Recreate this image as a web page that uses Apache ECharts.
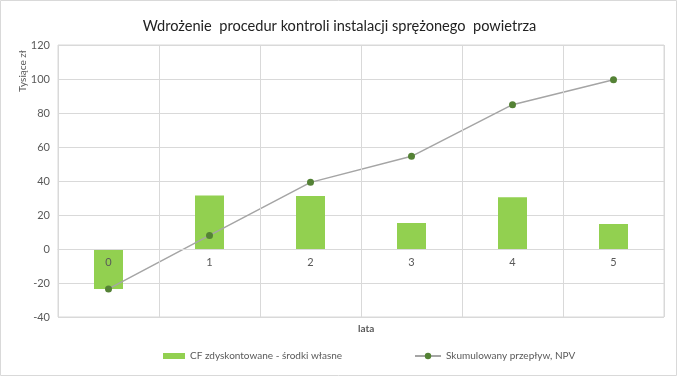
<!DOCTYPE html>
<html>
<head>
<meta charset="utf-8">
<script src="https://cdn.jsdelivr.net/npm/echarts@6/dist/echarts.min.js"></script>
<style>
  html, body { margin: 0; padding: 0; background: #fff; }
  #chart { width: 679px; height: 378px; }
</style>
</head>
<body>
<div id="chart"></div>
<script>
const years = ["0", "1", "2", "3", "4", "5"];
const cfValues = [-23.5, 31.5, 31.2, 15.3, 30.4, 14.7];
const npvValues = [-23.5, 8, 39.2, 54.5, 84.9, 99.6];

const labelColor = "#595959";
const gridColor = "#d9d9d9";
const font = "Lato";

const myChart = echarts.init(document.getElementById("chart"));

const legendText = { color: labelColor, fontSize: 10, fontFamily: font };

const option = {
  animation: false,
  textStyle: { fontFamily: font },
  title: [
    {
      text: "Wdrożenie  procedur kontroli instalacji sprężonego  powietrza",
      left: "center",
      top: 14,
      textStyle: { fontFamily: font, fontSize: 14.6, fontWeight: "normal", color: "#222" },
    },
    {
      text: "lata",
      left: 353,
      top: 319,
      textStyle: { fontFamily: font, fontSize: 10, fontWeight: "bold", color: labelColor },
    },
  ],
  graphic: [
    {
      type: "rect",
      shape: { x: 0.5, y: 0.5, width: 676, height: 375 },
      style: { fill: "none", stroke: gridColor, lineWidth: 1 },
      silent: true,
    },
    {
      type: "text",
      x: 18,
      y: 92,
      rotation: Math.PI / 2,
      style: { text: "Tysiące zł", fill: labelColor, fontSize: 10, fontFamily: font },
    },
  ],
  legend: [
    {
      left: 163,
      top: 351,
      padding: 0,
      itemGap: 0,
      itemWidth: 22,
      itemHeight: 6,
      textStyle: legendText,
      data: [{ name: "CF zdyskontowane - środki własne", icon: "rect" }],
    },
    {
      left: 414,
      top: 351,
      padding: 0,
      itemGap: 0,
      itemWidth: 26,
      itemHeight: 8,
      textStyle: legendText,
      data: [{ name: "Skumulowany przepływ, NPV" }],
    },
  ],
  grid: {
    show: true,
    left: 58,
    right: 15,
    top: 45,
    bottom: 61,
    borderColor: gridColor,
    borderWidth: 1,
    containLabel: false,
  },
  xAxis: {
    type: "category",
    data: years,
    boundaryGap: true,
    position: "bottom",
    offset: -68,
    z: 5,
    axisLine: { show: true, onZero: false, lineStyle: { color: gridColor } },
    axisTick: { show: false },
    axisLabel: { color: labelColor, fontSize: 11, margin: 8 },
    splitLine: { show: true, lineStyle: { color: gridColor } },
  },
  yAxis: {
    type: "value",
    min: -40,
    max: 120,
    interval: 20,
    axisLine: { show: false },
    axisTick: { show: false },
    axisLabel: { color: labelColor, fontSize: 11, margin: 8 },
    splitLine: { show: true, lineStyle: { color: gridColor } },
  },
  series: [
    {
      name: "CF zdyskontowane - środki własne",
      type: "bar",
      data: cfValues,
      barWidth: 29,
      itemStyle: { color: "#92d050" },
      z: 2,
    },
    {
      name: "Skumulowany przepływ, NPV",
      type: "line",
      data: npvValues,
      symbol: "circle",
      symbolSize: 7,
      lineStyle: { color: "#a5a5a5", width: 1.5 },
      itemStyle: { color: "#548235" },
      z: 3,
    },
  ],
};

myChart.setOption(option);
window.addEventListener("resize", () => {
  myChart.resize();
});
</script>
</body>
</html>
